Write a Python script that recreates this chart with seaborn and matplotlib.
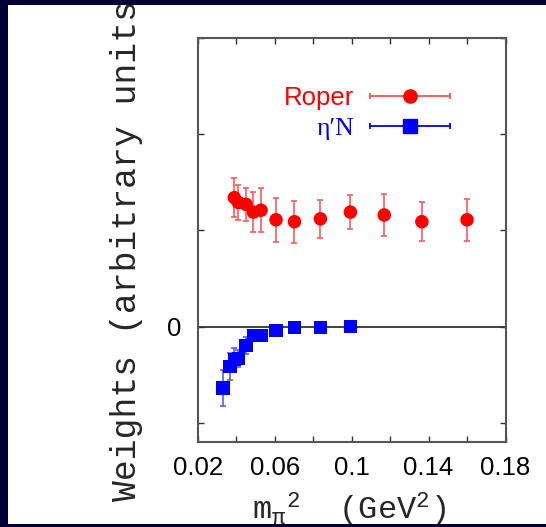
import numpy as np
import pandas as pd
import seaborn as sns
import matplotlib
matplotlib.use("Agg")
import matplotlib.pyplot as plt
from matplotlib.lines import Line2D
from matplotlib.patches import Rectangle
from matplotlib.legend_handler import HandlerLine2D, HandlerTuple

# Roper weights vs m_pi^2
roper_x = [0.0389, 0.0410, 0.0450, 0.0488, 0.0528, 0.0606, 0.0702, 0.0837, 0.0993, 0.1169, 0.1365, 0.1600]
roper_y = [1.34, 1.29, 1.27, 1.19, 1.21, 1.11, 1.09, 1.12, 1.19, 1.16, 1.09, 1.11]
roper_err = [0.20, 0.185, 0.17, 0.21, 0.23, 0.23, 0.22, 0.20, 0.18, 0.22, 0.20, 0.22]

# eta'N weights vs m_pi^2
eta_x = [0.0329, 0.0367, 0.0389, 0.0410, 0.0450, 0.0488, 0.0528, 0.0606, 0.0702, 0.0837, 0.0993]
eta_y = [-0.64, -0.415, -0.34, -0.33, -0.196, -0.092, -0.092, -0.04, -0.01, -0.01, 0.0]
eta_err = [0.19, 0.145, 0.12, 0.09, 0.085, 0.03, 0.03, 0.02, 0.01, 0.01, 0.01]

x_ticks = [0.02, 0.04, 0.06, 0.08, 0.10, 0.12, 0.14, 0.16, 0.18]
x_ticklabels = ["0.02", "", "0.06", "", "0.1", "", "0.14", "", "0.18"]
y_ticks = [-1, 0, 1, 2, 3]
y_ticklabels = ["", "0", "", "", ""]

RED = "#ff0000"
BLUE = "#0000ff"
RED_BAR = "#ff5a5a"
BLUE_BAR = "#5a5aff"
NAVY = "#000036"

sns.set_theme(style="ticks")
plt.rcParams["font.family"] = ["Liberation Sans", "DejaVu Sans"]
plt.rcParams["mathtext.fontset"] = "custom"
plt.rcParams["mathtext.rm"] = "Liberation Mono"
plt.rcParams["mathtext.it"] = "Liberation Mono"

W, H = 546, 527
fig = plt.figure(figsize=(W / 100, H / 100), dpi=100, facecolor="white")
ax = fig.add_axes([198 / W, (H - 442) / H, (505.5 - 198) / W, (442 - 38) / H])

df_r = pd.DataFrame({"m2": roper_x, "w": roper_y})
df_e = pd.DataFrame({"m2": eta_x, "w": eta_y})

ax.axhline(0, color="#333333", lw=1.3, zorder=1)

ax.errorbar(roper_x, roper_y, yerr=roper_err, fmt="none", ecolor=RED_BAR,
            elinewidth=1.2, capsize=2.0, capthick=1.2, zorder=2)
ax.errorbar(eta_x, eta_y, yerr=eta_err, fmt="none", ecolor=BLUE_BAR,
            elinewidth=1.2, capsize=2.0, capthick=1.2, zorder=2)

sns.scatterplot(data=df_r, x="m2", y="w", ax=ax, marker="o", s=95,
                color=RED, edgecolor="none", linewidth=0, zorder=3, legend=False)
sns.scatterplot(data=df_e, x="m2", y="w", ax=ax, marker="s", s=95,
                color=BLUE, edgecolor="none", linewidth=0, zorder=3, legend=False)

ax.set_xlim(0.02, 0.18)
ax.set_ylim(-1.2, 3)
ax.set_xticks(x_ticks)
ax.set_xticklabels(x_ticklabels)
ax.set_yticks(y_ticks)
ax.set_yticklabels(y_ticklabels)
ax.tick_params(axis="both", direction="in", length=4, width=1.0, color="#333333",
               top=True, right=True, labelsize=18.5, labelcolor="black")
ax.tick_params(axis="x", pad=10)
ax.tick_params(axis="y", pad=12)
for sp in ax.spines.values():
    sp.set_color("#555555")
    sp.set_linewidth(1.5)

ax.set_xlabel(r"m$_{\pi}{}^{2}$  (GeV$^{2}$)", fontsize=23, family="Liberation Mono")
ax.xaxis.set_label_coords(0.49, -0.12)
ax.set_ylabel("Weights (arbitrary units)", fontsize=25, family="Liberation Mono")
ax.yaxis.set_label_coords(-0.18, 0.5)

# legend keys: horizontal line with end caps plus the marker
r_line = Line2D([], [], color="#ff5050", lw=1.3, marker="|", ms=5, mew=1.3)
r_mark = Line2D([], [], color=RED, ls="none", marker="o", ms=9.5)
e_line = Line2D([], [], color=BLUE, lw=1.3, marker="|", ms=5, mew=1.3)
e_mark = Line2D([], [], color=BLUE, ls="none", marker="s", ms=9.5)
hmap = {
    r_line: HandlerLine2D(numpoints=2, marker_pad=0),
    e_line: HandlerLine2D(numpoints=2, marker_pad=0),
    r_mark: HandlerLine2D(numpoints=1),
    e_mark: HandlerLine2D(numpoints=1),
    tuple: HandlerTuple(ndivide=1),
}
leg = ax.legend([(r_line, r_mark), (e_line, e_mark)], ["Roper", "η′N"],
                handler_map=hmap, loc="center right",
                bbox_to_anchor=(0.818, 0.814), frameon=False, markerfirst=False,
                fontsize=18.5, handlelength=3.1, handletextpad=0.6,
                labelspacing=0.3, borderpad=0, borderaxespad=0)
txts = leg.get_texts()
txts[0].set_color(RED)
txts[1].set_color(BLUE)
txts[1].set_family(["Liberation Serif", "DejaVu Serif"])

# dark frame around the white panel
for (x0, y0, w, h) in [(0, 0, 8, H), (0, 0, W, 5), (0, H - 3, W, 3)]:
    fig.add_artist(Rectangle((x0 / W, 1 - (y0 + h) / H), w / W, h / H,
                             transform=fig.transFigure, facecolor=NAVY,
                             edgecolor="none", zorder=10))

fig.savefig("out.png", dpi=100, facecolor="white")
